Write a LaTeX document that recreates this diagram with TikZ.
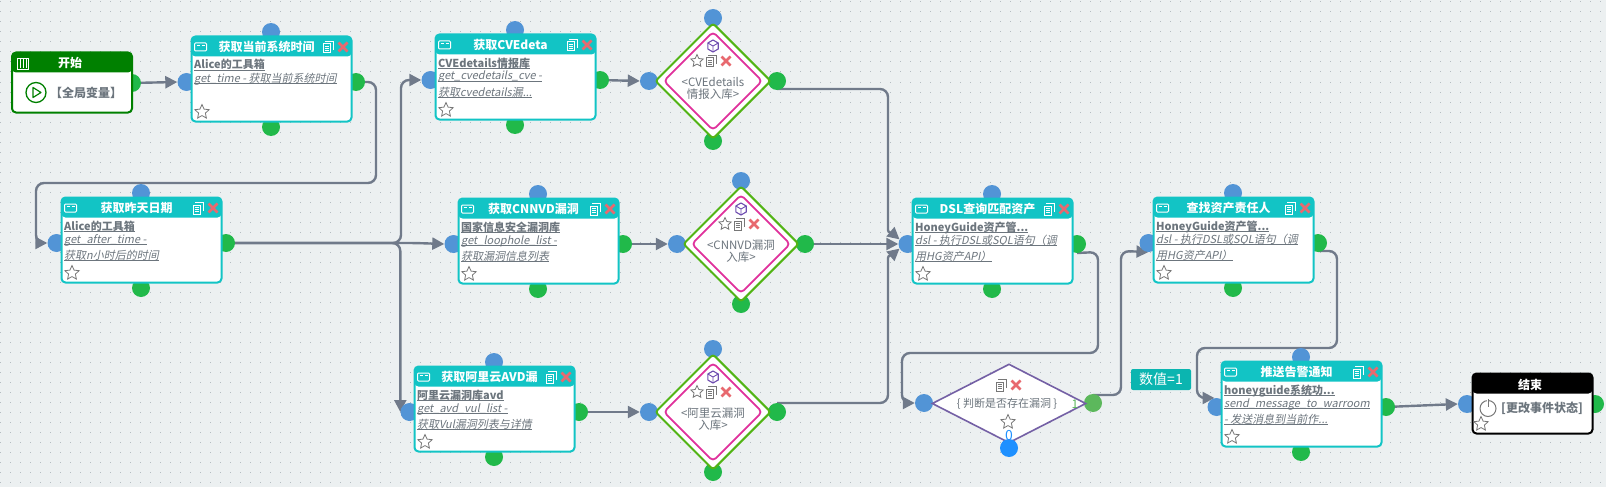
\documentclass[tikz,border=0pt]{standalone}
\usepackage{fontspec}
\setmainfont{Noto Sans CJK SC}[AutoFakeSlant=0.2]
\usetikzlibrary{shapes.geometric,arrows.meta}
\definecolor{bgc}{HTML}{ECF0F1}
\definecolor{dotc}{HTML}{B4BCC1}
\definecolor{tealc}{HTML}{12C4C5}
\definecolor{labc}{HTML}{0BB5B0}
\definecolor{portg}{HTML}{21B94A}
\definecolor{portb}{HTML}{5294D6}
\definecolor{portc}{HTML}{1E90FF}
\definecolor{portl}{HTML}{5CB85C}
\definecolor{txtc}{HTML}{6C757D}
\definecolor{linec}{HTML}{707A8A}
\definecolor{redx}{HTML}{E8696F}
\definecolor{startc}{HTML}{008000}
\definecolor{dgreen}{HTML}{52B415}
\definecolor{dpink}{HTML}{E0329C}
\definecolor{dpurple}{HTML}{7460A5}
\definecolor{cubec}{HTML}{6F4DB0}
\definecolor{iconc}{HTML}{777777}
\pgfdeclarelayer{under}
\pgfsetlayers{under,main}
\newcommand{\ulin}[1]{\setbox0=\hbox{#1}\leavevmode\rlap{\rule[-2pt]{\wd0}{.7pt}}\box0 }
\tikzset{
  x=1pt,y=-1pt,
  port/.style={circle,fill=#1,draw=none,minimum size=18pt,inner sep=0pt},
  conn/.style={draw=linec,line width=2.4pt,rounded corners=8pt,-{Triangle[length=12pt,width=12pt]}},
  boxbody/.style n args={3}{rectangle,rounded corners=4pt,draw=#1,line width=2pt,fill=white,
    minimum width=#2-2,minimum height=#3-2,inner sep=0pt,
    path picture={\fill[#1] (path picture bounding box.north west) rectangle ([yshift=-20pt]path picture bounding box.north east);}},
  headtxt/.style={text=white,inner sep=0pt,font=\bfseries\fontsize{12}{14}\selectfont},
  subtxt/.style={anchor=base west,text=txtc,inner sep=0pt,font=\bfseries\fontsize{11}{14}\selectfont},
  tooltxt/.style={anchor=base west,text=txtc,inner sep=0pt,font=\itshape\fontsize{11}{14}\selectfont},
  plaintxt/.style={text=txtc,inner sep=0pt,font=\fontsize{11.5}{14}\selectfont,align=center},
  boxtxt/.style={text=txtc,inner sep=0pt,font=\bfseries\fontsize{12}{14}\selectfont},
  favstar/.style={star,star points=5,star point ratio=2.1,draw=iconc,fill=white,line width=.8pt,minimum size=#1,inner sep=0pt},
  favstar/.default=15pt,
  pics/copyicon/.style={code={
    \draw[#1,line width=1pt] (-5,-3) rectangle (2,6);
    \draw[#1,line width=1pt] (-3.5,-.5) -- (.5,-.5) (-3.5,1.5) -- (.5,1.5) (-3.5,3.5) -- (.5,3.5);
    \draw[#1,line width=1pt] (-3,-5.5) -- (5,-5.5) -- (5,3);
  }},
  pics/delx/.style={code={
    \draw[redx,line width=2.6pt] (-4.5,-4.5) -- (4.5,4.5) (-4.5,4.5) -- (4.5,-4.5);
  }},
  pics/winicon/.style={code={
    \draw[white,line width=1pt,rounded corners=1pt] (-6,-4) rectangle (6,4);
    \draw[white,line width=.8pt] (-4,-1.5) -- (-1,-1.5) (1,-1.5) -- (4,-1.5);
  }},
  pics/cubeicon/.style={code={
    \draw[cubec,line width=1.1pt] (0,-6) -- (5.2,-3) -- (5.2,3) -- (0,6) -- (-5.2,3) -- (-5.2,-3) -- cycle;
    \draw[cubec,line width=.9pt] (-5.2,-3) -- (0,0) -- (5.2,-3) (0,0) -- (0,6);
  }},
}
% name, left, top, title, subtitle, line 1, line 2
\newcommand{\taskcard}[7]{%
  \begin{scope}[shift={(#2,#3)}]
    \node[port=portb] (#1-t) at (80,-4) {};
    \node[port=portb] (#1-l) at (-4.5,46) {};
    \node[port=portg] (#1-r) at (165,46) {};
    \node[port=portg] (#1-b) at (80,91) {};
    \node[boxbody={tealc}{162}{87}] (#1) at (80.5,43) {};
    \path (9.5,11) pic {winicon} (137,11) pic {copyicon=white} (152,11) pic {delx};
    \node[headtxt] (#1-title) at (75.5,11) {#4};
    \node[subtxt] (#1-sub) at (3,33) {\ulin{#5}};
    \node[tooltxt] (#1-a) at (3,46) {\ulin{#6}};
    \node[tooltxt] (#1-c) at (3,62) {\ulin{#7}};
    \node[favstar] (#1-star) at (11,76) {};
  \end{scope}}
% name, cx, cy, line 1, line 2
\newcommand{\checkdiamond}[5]{%
  \begin{scope}[shift={(#2,#3)}]
    \node[port=portb] (#1-t) at (0,-63) {};
    \node[port=portb] (#1-l) at (-64,0) {};
    \node[port=portg] (#1-r) at (64,0) {};
    \node[port=portg] (#1-b) at (0,60) {};
    \node[diamond,aspect=1,draw=dgreen,fill=white,line width=2pt,rounded corners=3pt,minimum width=116pt,minimum height=116pt,inner sep=0pt] (#1) at (0,0) {};
    \node[diamond,aspect=1,draw=dpink,fill=white,line width=1.8pt,rounded corners=4pt,minimum width=99pt,minimum height=99pt,inner sep=0pt] (#1-in) at (0,0) {};
    \path (0,-35) pic {cubeicon} (-2,-20) pic {copyicon=iconc} (13,-20) pic {delx};
    \node[favstar=13pt] (#1-star) at (-16,-20) {};
    \node[plaintxt] (#1-a) at (0,1) {#4};
    \node[plaintxt] (#1-c) at (0,13) {#5};
  \end{scope}}
\begin{document}
\begin{tikzpicture}
\useasboundingbox (0,0) rectangle (1606,487);
\begin{pgfonlayer}{under}
  \fill[bgc] (0,0) rectangle (1606,487);
  \foreach \yy in {2,12,...,482}
    \draw[dotc,line width=1pt,dash pattern=on 1pt off 9pt] (0,\yy) -- (1606,\yy);
\end{pgfonlayer}

% start
\node[port=portg] (start-r) at (132,83) {};
\node[boxbody={startc}{122}{62}] (start) at (72,82.5) {};
\node[headtxt] (start-title) at (70,63) {开始};
\draw[white,line width=.9pt] (17,58) rectangle (28,69) (20,59) -- (20,68) (23,59) -- (23,68) (26,59) -- (26,68);
\node[circle,draw=startc,line width=1.3pt,minimum size=20pt,inner sep=0pt] (start-play) at (36,92.5) {};
\draw[startc,line width=1.2pt,line join=round] (33,87.5) -- (41,92.5) -- (33,97.5) -- cycle;
\node[boxtxt] (start-txt) at (86,93) {【全局变量】};

% task cards
\taskcard{time}{191}{36}{获取当前系统时间}{Alice的工具箱}{get\_time - 获取当前系统时间}{}
\taskcard{after}{61}{197}{获取昨天日期}{Alice的工具箱}{get\_after\_time -}{获取n小时后的时间}
\taskcard{cve}{435}{34}{获取CVEdeta}{CVEdetails情报库}{get\_cvedetails\_cve -}{获取cvedetails漏...}
\taskcard{cnn}{458}{198}{获取CNNVD漏洞}{国家信息安全漏洞库}{get\_loophole\_list -}{获取漏洞信息列表}
\taskcard{avd}{414}{366}{获取阿里云AVD漏}{阿里云漏洞库avd}{get\_avd\_vul\_list -}{获取Vul漏洞列表与详情}
\taskcard{dsl}{912}{198}{DSL查询匹配资产}{HoneyGuide资产管...}{dsl - 执行DSL或SQL语句（调}{用HG资产API）}
\taskcard{owner}{1153}{197}{查找资产责任人}{HoneyGuide资产管...}{dsl - 执行DSL或SQL语句（调}{用HG资产API）}
\taskcard{push}{1221}{361}{推送告警通知}{honeyguide系统功...}{send\_message\_to\_warroom}{- 发送消息到当前作...}

% check diamonds
\checkdiamond{dcve}{713}{81}{<CVEdetails}{情报入库>}
\checkdiamond{dcnn}{741}{244}{<CNNVD漏洞}{入库>}
\checkdiamond{davd}{713}{412}{<阿里云漏洞}{入库>}

% decision
\node[port=portb] (dec-l) at (924,403) {};
\node[port=portl] (dec-r) at (1093,403) {};
\node[diamond,aspect=1.95,draw=dpurple,fill=white,line width=1.6pt,minimum width=154pt,minimum height=79pt,inner sep=0pt] (dec) at (1009,403.5) {};
\node[port=portc] (dec-b) at (1009,448) {};
\path (1001,385) pic {copyicon=iconc} (1016,385) pic {delx};
\node[plaintxt,font=\fontsize{11}{14}\selectfont] (dec-txt) at (1007,404) {\{ 判断是否存在漏洞 \}};
\node[favstar] (dec-star) at (1008,422) {};
\node[text=portl,inner sep=0pt,font=\fontsize{12}{14}\selectfont] (dec-one) at (1075,404) {1};
\node[text=portc,inner sep=0pt,font=\fontsize{14}{14}\selectfont] (dec-zero) at (1009,436) {0};

% value label
\node[fill=labc,text=white,rounded corners=2pt,minimum width=60pt,minimum height=21pt,inner sep=0pt,font=\fontsize{14}{14}\selectfont] (val) at (1161,379.5) {数值=1};

% end
\node[port=portb] (end-l) at (1467,404) {};
\node[port=portg] (end-r) at (1595,404) {};
\node[boxbody={black}{122}{62}] (end) at (1532.5,403.5) {};
\node[headtxt] (end-title) at (1530,385) {结束};
\node[circle,draw=iconc,line width=1pt,minimum size=16pt,inner sep=0pt] (end-power) at (1488,408.5) {};
\draw[white,line width=2.5pt] (1488,399) -- (1488,402);
\draw[iconc,line width=1pt] (1488,399) -- (1488,407);
\node[boxtxt] (end-txt) at (1542,408) {[更改事件状态]};
\node[favstar] (end-star) at (1481,424) {};

% connectors
\begin{pgfonlayer}{under}
  \draw[conn] (start-r.center) -- (time-l.west);
  \draw[conn] (time-r.center) -- (376,82) -- (376,183) -- (36,183) -- (36,243) -- (after-l.west);
  \draw[conn] (after-r.center) -- (401,243) |- (cve-l.west);
  \draw[conn] (after-r.center) -- (415,243) -- (cnn-l.west);
  \draw[conn] (after-r.center) -| (avd-l.west);
  \draw[conn] (cve-r.center) -- (dcve-l.west);
  \draw[conn] (cnn-r.center) -- (dcnn-l.west);
  \draw[conn] (avd-r.center) -- (davd-l.west);
  \draw[conn] ([yshift=-8pt]dcve-r.center) -- (888,89) -- (888,222) .. controls (888,233) and (892,233) .. (dsl-l.150);
  \draw[conn] (dcnn-r.center) -- (dsl-l.west);
  \draw[conn] ([yshift=9pt]davd-r.center) -- (888,403) -- (888,266) .. controls (888,255) and (892,255) .. (dsl-l.210);
  \draw[conn] ([yshift=-9pt]dsl-r.center) -- (1098,252) -- (1098,353) -- (902,353) -- (902,403) -- (dec-l.west);
  \draw[conn] ([yshift=8pt]dec-r.center) -- (1121,395) -- (1121,251) -- ([yshift=-9pt]owner-l.center);
  \draw[conn] ([yshift=-8pt]owner-r.center) -- (1337,251) -- (1337,348) -- (1197,348) -- (1197,398) -- ([xshift=-2pt,yshift=9pt]push-l.center);
  \draw[conn] (push-r.center) -- (end-l.west);
\end{pgfonlayer}
\end{tikzpicture}
\end{document}
